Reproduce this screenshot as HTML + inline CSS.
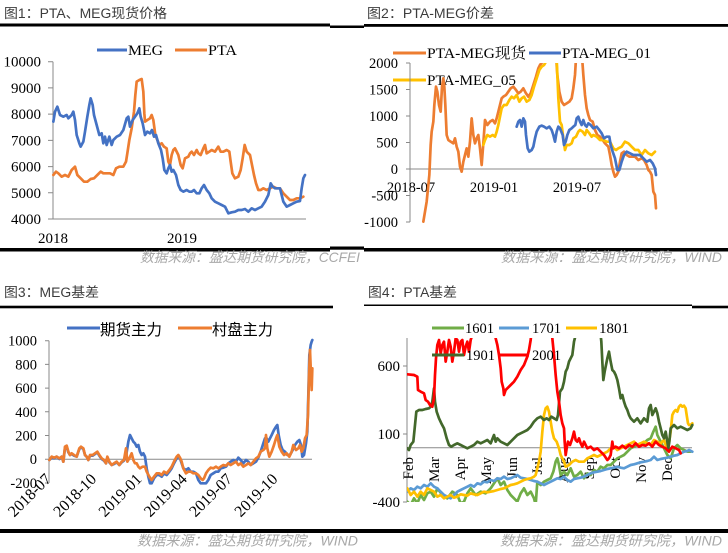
<!DOCTYPE html>
<html><head><meta charset="utf-8"><style>
html,body{margin:0;padding:0;background:#fff;width:728px;height:553px;overflow:hidden}
svg{display:block}
.s{fill:none;stroke-width:2.7;stroke-linejoin:round;stroke-linecap:round;vector-effect:non-scaling-stroke}
.ax{stroke:#898989;stroke-width:1;fill:none}
.t{font-family:"Liberation Serif","Noto Serif CJK SC",serif;font-size:15px;fill:#000}
.ti{font-family:"Liberation Sans","Noto Sans CJK SC",sans-serif;font-size:13.5px;fill:#3c3c3c}
.ft{font-family:"Liberation Sans","Noto Sans CJK SC",sans-serif;font-size:14px;font-style:italic;fill:#a8a8a8}
.cj{font-family:"Liberation Sans","Noto Sans CJK SC",sans-serif;font-size:15.5px;fill:#000}
</style></head><body>
<svg width="728" height="553" viewBox="0 0 728 553" xmlns="http://www.w3.org/2000/svg">
<defs>
<clipPath id="c2"><rect x="410" y="63" width="250" height="160"/></clipPath>
<clipPath id="c4"><rect x="407" y="338" width="290" height="164"/></clipPath>
</defs>

<!-- ===== Titles & rules ===== -->
<text class="ti" x="4" y="18" textLength="163" lengthAdjust="spacingAndGlyphs">图1：PTA、MEG现货价格</text>
<text class="ti" x="367" y="18" textLength="127" lengthAdjust="spacingAndGlyphs">图2：PTA-MEG价差</text>
<text class="ti" x="4" y="297" textLength="95" lengthAdjust="spacingAndGlyphs">图3：MEG基差</text>
<text class="ti" x="368" y="297" textLength="89" lengthAdjust="spacingAndGlyphs">图4：PTA基差</text>

<rect x="0" y="23.5" width="330" height="3" fill="#000"/>
<rect x="330" y="25.5" width="34" height="2.5" fill="#000"/>
<rect x="364" y="24" width="364" height="2.8" fill="#000"/>
<rect x="0" y="248" width="330" height="3.5" fill="#000"/>
<rect x="330" y="246.5" width="34" height="3.2" fill="#000"/>
<rect x="364" y="248" width="364" height="3.5" fill="#000"/>

<rect x="0" y="305.7" width="333" height="2.6" fill="#000"/>
<rect x="364" y="304.5" width="328" height="1.5" fill="#000"/>
<rect x="692" y="305.7" width="36" height="2.6" fill="#000"/>
<rect x="0" y="529" width="364" height="4" fill="#000"/>
<rect x="364" y="529" width="364" height="4" fill="#000"/>

<text class="ft" x="140" y="262" textLength="220" lengthAdjust="spacingAndGlyphs">数据来源：盛达期货研究院，CCFEI</text>
<text class="ft" x="501" y="262" textLength="221" lengthAdjust="spacingAndGlyphs">数据来源：盛达期货研究院，WIND</text>
<text class="ft" x="137" y="545.5" textLength="221" lengthAdjust="spacingAndGlyphs">数据来源：盛达期货研究院，WIND</text>
<text class="ft" x="500" y="545.5" textLength="222" lengthAdjust="spacingAndGlyphs">数据来源：盛达期货研究院，WIND</text>

<!-- ===== Panel 1 ===== -->
<line x1="97" y1="50" x2="127" y2="50" stroke="#4472C4" stroke-width="3"/>
<text class="t" x="128" y="55" textLength="35" lengthAdjust="spacingAndGlyphs">MEG</text>
<line x1="175" y1="50" x2="207" y2="50" stroke="#ED7D31" stroke-width="3"/>
<text class="t" x="208" y="55" textLength="29" lengthAdjust="spacingAndGlyphs">PTA</text>

<path class="ax" d="M53,61.7V219H306M48,61.7H53M48,87.9H53M48,114.1H53M48,140.4H53M48,166.6H53M48,192.8H53M48,219H53"/>
<g class="t" text-anchor="end">
<text x="41" y="66.7">10000</text><text x="41" y="92.9">9000</text><text x="41" y="119.1">8000</text>
<text x="41" y="145.4">7000</text><text x="41" y="171.6">6000</text><text x="41" y="197.8">5000</text><text x="41" y="224">4000</text>
</g>
<g class="t" text-anchor="middle"><text x="53" y="243">2018</text><text x="182" y="243">2019</text></g>

<g transform="translate(50,55) scale(0.33333)">
<polyline class="s" stroke="#ED7D31" points="10,360 18,350 25,355 35,365 45,360 55,365 65,345 75,335 82,360 92,370 102,380 112,380 122,372 132,370 142,360 152,350 160,355 170,355 180,355 190,360 198,340 208,335 220,335 228,320 232,295 238,255 245,220 252,170 256,120 260,80 268,75 275,72 280,110 283,175 285,200 292,195 300,190 305,180 310,195 316,240 322,255 328,270 335,265 342,275 350,280 355,320 360,330 365,300 370,285 375,280 380,290 385,300 392,330 398,340 405,310 415,305 420,295 425,290 432,300 440,285 445,295 452,300 460,280 465,270 470,295 478,290 485,285 495,290 505,275 512,290 520,290 530,285 538,290 542,320 547,355 555,370 565,365 572,345 578,310 584,270 590,290 600,300 606,330 612,360 618,385 625,405 632,405 640,400 650,405 660,400 670,395 680,400 690,400 700,415 710,425 720,435 730,435 740,430 750,430 760,425"/>
<polyline class="s" stroke="#4472C4" points="10,200 15,170 22,155 30,180 40,185 50,180 55,190 65,180 70,170 75,195 80,240 88,265 92,275 100,260 105,230 112,185 118,150 122,130 128,150 132,180 140,210 148,240 155,235 160,265 165,245 170,270 178,245 185,270 190,255 200,245 210,240 220,225 230,190 235,185 240,215 248,195 255,185 262,175 268,160 272,185 278,205 285,240 292,230 300,235 306,225 312,245 318,240 325,265 333,285 338,310 343,345 350,355 355,340 360,330 365,350 370,345 378,360 385,390 392,405 400,410 410,405 418,410 425,410 432,405 440,415 448,415 455,400 462,390 470,405 478,415 485,430 495,440 505,445 515,450 525,455 535,475 545,472 555,470 565,465 575,465 585,462 595,470 605,460 615,465 625,460 635,455 645,440 655,420 662,385 668,395 675,400 682,400 690,400 695,420 700,440 710,455 720,450 730,445 740,440 750,438 755,400 760,370 765,360"/>
</g>

<!-- ===== Panel 2 ===== -->
<line x1="393" y1="53" x2="426" y2="53" stroke="#ED7D31" stroke-width="3"/>
<text class="t" x="427" y="58" textLength="99" lengthAdjust="spacingAndGlyphs">PTA-MEG现货</text>
<line x1="529" y1="53" x2="561" y2="53" stroke="#4472C4" stroke-width="3"/>
<text class="t" x="562" y="58" textLength="89" lengthAdjust="spacingAndGlyphs">PTA-MEG_01</text>
<line x1="393" y1="80" x2="426" y2="80" stroke="#FFC000" stroke-width="3"/>
<text class="t" x="427" y="85" textLength="89" lengthAdjust="spacingAndGlyphs">PTA-MEG_05</text>

<path class="ax" d="M410,63V222M406,63H410M406,89.5H410M406,116H410M406,142.5H410M406,169H410M406,195.5H410M406,222H410M410,169H657"/>
<g class="t" text-anchor="end" style="font-size:14.5px">
<text x="398" y="68">2000</text><text x="398" y="94.5">1500</text><text x="398" y="121">1000</text><text x="398" y="147.5">500</text>
<text x="398" y="174">0</text><text x="398" y="200.5">-500</text><text x="398" y="227">-1000</text>
</g>
<g class="t" text-anchor="middle" style="font-size:14.5px"><text x="411" y="192">2018-07</text><text x="494" y="192">2019-01</text><text x="577" y="192">2019-07</text></g>

<g clip-path="url(#c2)"><g transform="translate(400,55) scale(0.33333)">
<polyline class="s" stroke="#ED7D31" points="70,500 80,440 88,360 92,270 95,230 100,200 103,150 108,95 112,110 117,150 122,170 126,95 130,70 133,95 136,150 140,240 145,255 152,260 160,265 165,250 170,275 175,290 180,335 185,350 190,320 195,300 200,280 205,305 210,260 215,190 220,240 225,265 230,250 235,240 240,280 245,330 250,265 255,195 262,210 270,200 278,195 285,205 290,190 295,170 300,150 305,130 310,125 318,120 325,110 332,100 340,95 348,105 355,115 362,110 370,100 378,115 385,125 392,115 400,90 408,65 415,40 420,30 428,20 435,10 440,-10 460,-10 468,0 472,60 478,110 485,140 492,150 500,145 508,140 515,130 520,100 525,60 528,10 530,-10 545,-10 550,60 555,120 560,160 565,180 570,195 578,200 585,225 592,240 600,245 608,255 615,265 625,275 630,300 635,330 640,350 645,365 650,360 655,350 660,320 665,295 672,290 680,300 688,305 695,305 705,305 715,315 725,310 732,315 740,330 745,345 750,350 755,360 760,410 765,420 768,460"/>
<polyline class="s" stroke="#FFC000" points="250,270 255,255 262,240 270,245 278,240 285,245 290,230 295,210 300,185 305,160 312,150 320,150 328,135 335,125 342,130 350,120 358,140 365,130 372,125 380,140 388,135 395,120 402,95 410,70 418,45 425,35 432,30 438,20 445,0 448,-10 466,-10 470,10 475,130 480,200 485,210 490,250 495,285 500,270 508,270 515,265 520,250 528,245 535,230 540,225 548,230 555,240 560,225 568,235 575,245 580,240 590,245 600,255 610,255 620,260 630,260 640,280 648,285 655,280 665,275 675,260 685,265 695,275 705,285 715,285 725,300 735,285 745,295 755,300 765,290"/>
<polyline class="s" stroke="#4472C4" points="350,215 355,200 360,195 365,215 370,190 375,200 378,240 383,280 388,290 395,285 400,275 405,250 410,230 418,215 425,212 432,215 440,220 448,215 455,225 460,240 465,260 470,230 475,215 480,220 488,240 492,270 497,260 502,240 508,225 515,220 520,215 526,210 530,190 535,185 540,200 545,210 550,195 555,210 560,215 565,205 572,210 580,220 590,215 598,225 605,235 612,250 620,245 628,245 632,270 638,290 645,310 652,345 658,345 665,320 672,300 680,290 690,295 700,300 710,300 720,300 730,310 740,320 750,315 758,325 765,340 768,360"/>
</g></g>

<!-- ===== Panel 3 ===== -->
<line x1="67" y1="328" x2="100" y2="328" stroke="#4472C4" stroke-width="3"/>
<text class="cj" x="100" y="335" textLength="62" lengthAdjust="spacingAndGlyphs">期货主力</text>
<line x1="178" y1="328" x2="212" y2="328" stroke="#ED7D31" stroke-width="3"/>
<text class="cj" x="212" y="335" textLength="61" lengthAdjust="spacingAndGlyphs">村盘主力</text>

<path class="ax" d="M49,340.7V483M45,340.7H49M45,364.4H49M45,388.1H49M45,411.8H49M45,435.5H49M45,459.2H49M45,483H49M49,459.2H312"/>
<g class="t" text-anchor="end" style="font-size:14.5px">
<text x="37" y="345.7">1000</text><text x="37" y="369.4">800</text><text x="37" y="393.1">600</text><text x="37" y="416.8">400</text>
<text x="37" y="440.5">200</text><text x="37" y="464.2">0</text><text x="37" y="488">-200</text>
</g>
<g class="t" text-anchor="end" style="font-size:16px">
<text transform="translate(52,480) rotate(-45)">2018-07</text>
<text transform="translate(97.3,480) rotate(-45)">2018-10</text>
<text transform="translate(142.6,480) rotate(-45)">2019-01</text>
<text transform="translate(187.9,480) rotate(-45)">2019-04</text>
<text transform="translate(233.2,480) rotate(-45)">2019-07</text>
<text transform="translate(278.5,480) rotate(-45)">2019-10</text>
</g>

<g transform="translate(0,275) scale(0.33333)">
<polyline class="s" stroke="#4472C4" points="148,555 155,548 162,550 170,545 178,552 185,545 190,560 195,518 200,515 205,532 210,540 215,537 222,542 230,545 238,522 243,517 250,522 255,540 260,545 265,555 270,542 278,542 285,537 292,532 298,542 305,552 312,557 318,565 322,548 328,562 335,570 342,567 350,562 358,570 365,562 372,557 378,545 385,500 390,480 395,490 400,500 405,505 410,515 415,510 420,530 425,540 430,535 435,545 440,580 445,605 450,625 455,625 462,610 470,600 478,600 485,605 492,595 500,600 508,590 515,580 522,565 530,550 535,545 540,550 545,565 550,580 558,585 565,580 572,590 580,590 588,595 595,615 602,625 610,625 618,625 625,615 632,600 640,595 648,590 655,590 662,580 670,578 678,575 685,565 692,560 700,555 708,560 715,548 722,555 730,565 738,555 745,560 752,570 760,565 768,560 775,548 782,530 790,505 795,490 800,490 805,500 810,490 815,480 822,465 828,455 832,450 836,480 842,510 848,525 855,530 862,540 870,540 878,525 885,510 892,500 898,495 903,510 907,545 912,540 918,505 922,470 925,360 928,240 932,210 935,200 937,195"/>
<polyline class="s" stroke="#ED7D31" points="148,555 155,545 162,548 170,545 178,550 185,545 190,560 195,515 200,512 205,530 210,540 215,535 222,540 230,545 238,520 243,515 250,520 255,540 260,545 265,555 270,540 278,540 285,535 292,530 298,540 305,550 312,555 318,565 322,545 328,560 335,570 342,565 350,560 358,570 365,560 372,555 378,520 382,560 388,550 395,535 400,555 405,565 410,565 415,575 420,580 428,575 435,575 440,590 448,605 455,615 462,605 470,595 478,595 485,600 492,590 500,595 508,585 515,575 522,560 530,545 535,540 540,548 545,560 550,580 558,595 565,590 572,590 580,595 588,595 595,600 602,610 608,615 612,610 618,595 625,585 632,578 640,580 648,575 655,580 662,575 670,570 678,572 685,565 692,570 700,565 708,560 715,570 722,565 730,575 738,570 745,565 752,570 760,560 768,550 775,545 782,530 790,525 795,520 798,480 802,520 808,545 815,530 822,510 828,490 832,480 838,515 845,530 852,540 860,535 868,545 875,530 880,510 888,525 895,520 900,510 905,530 910,520 915,490 920,480 924,420 927,300 930,225 933,300 935,345 937,280"/>
</g>

<!-- ===== Panel 4 ===== -->
<path class="ax" d="M407,338V502M403,366H407M403,434H407M403,502H407M407,447.7H692"/>
<g class="t" text-anchor="end">
<text x="400" y="371">600</text><text x="400" y="439">100</text><text x="400" y="507">-400</text>
</g>
<g class="t" text-anchor="end">
<text transform="translate(413,457) rotate(-90)">Feb</text>
<text transform="translate(439,457) rotate(-90)">Mar</text>
<text transform="translate(465,457) rotate(-90)">Apr</text>
<text transform="translate(491,457) rotate(-90)">May</text>
<text transform="translate(517,457) rotate(-90)">Jun</text>
<text transform="translate(542,457) rotate(-90)">Jul</text>
<text transform="translate(568,457) rotate(-90)">Aug</text>
<text transform="translate(594,457) rotate(-90)">Sep</text>
<text transform="translate(620,457) rotate(-90)">Oct</text>
<text transform="translate(646,457) rotate(-90)">Nov</text>
<text transform="translate(672,457) rotate(-90)">Dec</text>
</g>

<g clip-path="url(#c4)"><g transform="translate(364,275) scale(0.33333)">
<polyline class="s" stroke="#70AD47" points="130,680 140,690 150,670 160,685 170,660 180,675 190,655 200,650 210,665 220,640 235,660 250,670 265,650 280,660 290,685 300,680 310,655 320,640 335,660 350,650 365,655 380,640 390,625 400,610 410,630 420,620 430,645 440,660 450,670 460,680 470,655 480,640 490,660 500,650 510,670 515,690 520,620 530,630 540,620 550,615 560,610 568,590 575,560 580,550 585,570 590,600 600,590 610,600 620,580 630,605 640,600 650,590 660,610 670,595 680,600 690,585 700,590 710,575 720,580 730,570 740,570 750,560 760,550 770,545 780,540 790,530 800,520 810,515 820,510 830,505 840,505 850,495 860,490 868,470 875,455 880,480 890,500 900,520 910,540 920,550 930,520 940,510 950,520 960,525 970,530 980,530"/>
<polyline class="s" stroke="#5B9BD5" points="130,650 140,640 150,645 160,635 170,640 180,630 190,635 200,625 210,635 220,640 230,650 240,660 250,665 260,670 270,660 280,650 290,645 300,640 310,635 320,630 330,635 340,625 350,628 360,620 370,622 380,615 390,618 400,610 410,612 420,605 430,612 440,610 450,605 460,600 470,608 480,610 490,612 500,615 510,618 520,620 530,625 540,630 550,625 560,620 570,615 580,610 590,612 600,605 610,615 620,620 630,612 640,610 650,608 660,605 670,600 680,595 690,592 700,590 710,588 720,585 730,582 740,580 750,578 760,575 770,578 780,580 790,575 800,570 810,568 820,565 830,562 840,560 850,558 860,555 870,545 880,555 890,552 900,550 910,548 920,545 930,542 940,540 950,535 960,530 970,528 975,525 985,530"/>
<polyline class="s" stroke="#FFC000" points="130,640 140,660 150,650 160,665 170,650 180,660 190,640 200,645 210,650 220,665 230,660 240,670 250,665 260,660 270,668 280,665 290,658 300,660 310,662 320,655 330,658 340,660 350,655 360,650 370,652 380,650 390,648 400,645 410,642 420,640 430,635 440,630 450,628 460,625 470,620 480,615 490,612 500,610 510,605 515,600 520,580 525,560 530,530 535,470 540,420 545,400 550,395 555,410 560,440 565,470 570,490 578,500 585,520 590,540 595,550 600,560 605,575 615,570 625,560 635,555 645,560 660,560 670,550 680,545 690,540 700,545 710,540 720,535 730,530 740,520 750,515 760,525 770,520 780,515 790,510 800,505 810,500 820,510 830,505 840,500 850,505 860,510 870,495 880,500 890,505 900,495 905,510 910,520 915,505 920,470 925,420 930,410 935,405 940,410 945,395 950,390 955,395 960,392 965,400 968,420 972,445 975,450 980,450 985,445"/>
<polyline class="s" stroke="#43682B" points="130,520 135,525 140,510 148,500 152,460 157,410 165,405 175,405 185,402 195,400 200,395 205,380 210,340 213,380 218,410 225,430 232,445 240,460 248,490 255,510 262,515 270,510 280,505 290,510 300,515 310,520 320,515 330,510 340,500 350,505 360,500 370,495 380,505 390,480 395,500 400,490 410,500 420,505 430,510 440,500 450,490 460,480 470,475 480,470 490,465 500,455 510,440 520,430 530,425 540,435 548,430 555,435 562,425 570,430 578,435 582,420 588,350 595,340 600,320 605,290 610,280 615,260 620,250 625,240 630,200 635,180 640,100 705,100 710,180 712,200 715,260 718,315 722,290 726,270 730,250 735,230 740,260 745,285 750,290 755,300 760,315 765,340 770,370 775,360 780,380 785,395 790,405 795,420 800,430 810,440 820,430 830,445 840,430 850,440 855,400 860,390 865,420 870,410 875,400 880,415 885,440 890,460 895,480 900,490 905,470 910,500 913,520 916,500 920,460 925,455 930,450 940,460 950,455 960,460 970,465 980,460 985,450"/>
<polyline class="s" stroke="#FF0000" points="130,298 150,300 160,305 162,345 170,350 180,355 185,375 192,380 198,390 205,395 210,370 213,300 216,250 220,210 225,195 230,235 235,210 240,200 245,260 250,230 255,195 260,215 265,260 270,230 275,190 280,195 285,230 290,200 295,195 300,240 305,215 310,200 315,230 320,195 325,180 330,150 390,150 395,190 400,210 405,240 410,280 413,320 418,340 420,360 425,345 430,340 440,330 450,320 460,305 470,285 480,270 490,245 495,225 500,195 505,150 560,150 565,190 570,240 575,300 580,350 585,380 590,420 595,445 600,460 602,500 605,540 608,520 612,500 618,510 625,490 630,470 635,495 640,500 645,490 650,505 655,515 660,500 665,510 670,520 680,515 690,525 700,520 710,530 720,540 730,555 735,550 740,540 745,500 748,520 755,515 765,520 775,512 785,520 795,510 805,515 815,505 825,515 835,510 845,512 855,505 865,515 875,500 885,510 895,515 905,520 915,530 925,515 935,520 945,525 950,535"/>
</g></g>

<line x1="432" y1="328" x2="464" y2="328" stroke="#70AD47" stroke-width="3"/>
<text class="t" x="465" y="333" textLength="29" lengthAdjust="spacingAndGlyphs">1601</text>
<line x1="499" y1="328" x2="529" y2="328" stroke="#5B9BD5" stroke-width="3"/>
<text class="t" x="532" y="333" textLength="29" lengthAdjust="spacingAndGlyphs">1701</text>
<line x1="566" y1="328" x2="597" y2="328" stroke="#FFC000" stroke-width="3"/>
<text class="t" x="599" y="333" textLength="30" lengthAdjust="spacingAndGlyphs">1801</text>
<line x1="432" y1="355" x2="464" y2="355" stroke="#43682B" stroke-width="3"/>
<text class="t" x="466" y="360" textLength="29" lengthAdjust="spacingAndGlyphs">1901</text>
<line x1="499" y1="355" x2="529" y2="355" stroke="#FF0000" stroke-width="3"/>
<text class="t" x="532" y="360" textLength="29" lengthAdjust="spacingAndGlyphs">2001</text>
</svg>
</body></html>
